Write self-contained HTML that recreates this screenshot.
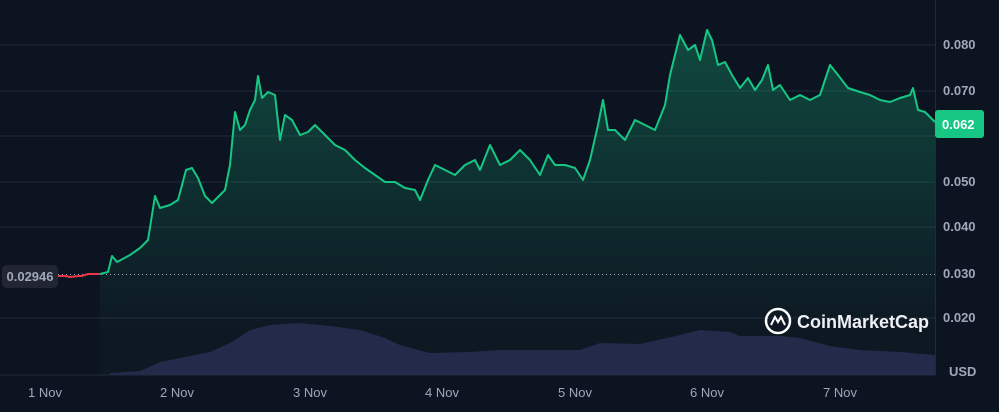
<!DOCTYPE html><html><head><style>body{margin:0;background:#0d1421;}svg{display:block}text{font-family:"Liberation Sans",sans-serif}</style></head><body>
<svg width="999" height="412" xmlns="http://www.w3.org/2000/svg">
<defs><linearGradient id="g" gradientUnits="userSpaceOnUse" x1="0" y1="30" x2="0" y2="330"><stop offset="0" stop-color="#16c784" stop-opacity="0.3"/><stop offset="1" stop-color="#16c784" stop-opacity="0.02"/></linearGradient></defs>
<rect width="999" height="412" fill="#0d1421"/>
<g stroke="#222a38" stroke-width="1">
<line x1="0" y1="45" x2="935" y2="45"/><line x1="0" y1="91" x2="935" y2="91"/><line x1="0" y1="136" x2="935" y2="136"/><line x1="0" y1="182" x2="935" y2="182"/><line x1="0" y1="227" x2="935" y2="227"/><line x1="0" y1="318" x2="935" y2="318"/><line x1="0" y1="375" x2="935" y2="375"/>
<line x1="935.5" y1="0" x2="935.5" y2="375"/></g>
<path fill="url(#g)" d="M100,274 L108,272 L112,256 L117,262 L130,255 L140,248 L148,240 L155,196 L160,208 L170,205 L178,200 L186,170 L192,168 L198,178 L205,196 L212,203 L218,197 L225,190 L230,165 L235,112 L240,130 L245,125 L250,110 L255,100 L258,76 L262,98 L268,92 L275,95 L280,140 L285,115 L292,120 L300,135 L308,132 L315,125 L325,135 L335,145 L345,150 L355,160 L365,168 L375,175 L385,182 L395,182 L405,188 L415,190 L420,200 L428,180 L435,165 L445,170 L455,175 L465,165 L475,160 L480,170 L490,145 L500,165 L510,160 L520,150 L530,160 L540,175 L548,155 L555,165 L565,165 L575,168 L583,180 L590,160 L598,125 L603,100 L608,130 L615,130 L625,140 L635,120 L645,125 L655,130 L665,105 L670,75 L675,55 L680,35 L688,50 L695,45 L700,60 L707,30 L712,40 L718,65 L725,62 L732,75 L740,88 L748,78 L755,90 L762,80 L768,65 L773,90 L780,85 L790,100 L800,95 L810,100 L820,95 L830,65 L838,75 L848,88 L860,92 L870,95 L880,100 L890,102 L900,98 L910,95 L913,88 L918,110 L925,112 L935,122 L935,375 L100,375 Z"/>
<polygon fill="#232a4a" points="110,375 110,373 140,371 160,362 180,358 210,352 232,342 250,330 270,325 300,323 330,326 360,330 385,338 400,345 430,353 470,352 500,350 540,350 580,350 600,343 640,344 680,335 700,330 730,332 740,336 780,336 800,338 830,346 860,350 900,352 935,355 935,375"/>
<line x1="58" y1="274.5" x2="935" y2="274.5" stroke="#a1a7bb" stroke-width="1" stroke-dasharray="1,3"/>
<polyline fill="none" stroke="#16c784" stroke-width="2" stroke-linejoin="round" points="100,274 108,272 112,256 117,262 130,255 140,248 148,240 155,196 160,208 170,205 178,200 186,170 192,168 198,178 205,196 212,203 218,197 225,190 230,165 235,112 240,130 245,125 250,110 255,100 258,76 262,98 268,92 275,95 280,140 285,115 292,120 300,135 308,132 315,125 325,135 335,145 345,150 355,160 365,168 375,175 385,182 395,182 405,188 415,190 420,200 428,180 435,165 445,170 455,175 465,165 475,160 480,170 490,145 500,165 510,160 520,150 530,160 540,175 548,155 555,165 565,165 575,168 583,180 590,160 598,125 603,100 608,130 615,130 625,140 635,120 645,125 655,130 665,105 670,75 675,55 680,35 688,50 695,45 700,60 707,30 712,40 718,65 725,62 732,75 740,88 748,78 755,90 762,80 768,65 773,90 780,85 790,100 800,95 810,100 820,95 830,65 838,75 848,88 860,92 870,95 880,100 890,102 900,98 910,95 913,88 918,110 925,112 935,122"/>
<polyline fill="none" stroke="#ea3943" stroke-width="2" points="58,276 65,276 70,277 78,276 82,276 88,274 100,274"/>
<rect x="2" y="265" width="56" height="23" rx="5" fill="#222633"/>
<text x="30" y="281" font-size="13" font-weight="bold" fill="#a1a7bb" text-anchor="middle">0.02946</text>
<g font-size="13" font-weight="bold" fill="#a1a7bb">
<text x="943" y="49">0.080</text><text x="943" y="95">0.070</text><text x="943" y="186">0.050</text><text x="943" y="231">0.040</text><text x="943" y="278">0.030</text><text x="943" y="322">0.020</text><text x="949" y="376">USD</text></g>
<rect x="935" y="110" width="49" height="28" rx="3" fill="#16c784"/>
<text x="942" y="129" font-size="13" font-weight="bold" fill="#fff">0.062</text>
<g font-size="13" fill="#a1a7bb" text-anchor="middle">
<text x="45" y="397">1 Nov</text><text x="177" y="397">2 Nov</text><text x="310" y="397">3 Nov</text><text x="442" y="397">4 Nov</text><text x="575" y="397">5 Nov</text><text x="707" y="397">6 Nov</text><text x="840" y="397">7 Nov</text></g>
<circle cx="778" cy="321" r="12" fill="none" stroke="#fff" stroke-width="2.5"/>
<path d="M771,325 L775,317 L778,322 L781,317 L785,325" fill="none" stroke="#fff" stroke-width="2"/>
<text x="797" y="328" font-size="18" font-weight="bold" fill="#eef0f4">CoinMarketCap</text>
</svg></body></html>
